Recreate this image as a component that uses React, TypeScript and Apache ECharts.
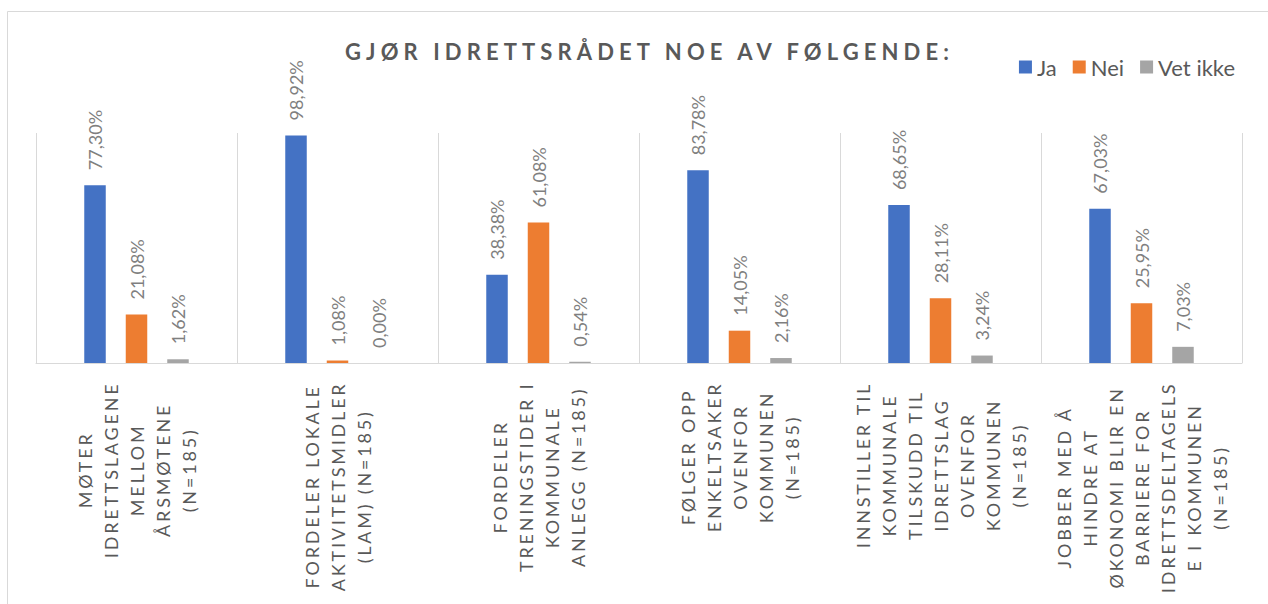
import React, { useEffect, useRef } from 'react';
import * as echarts from 'echarts';

const TITLE = 'GJØR IDRETTSRÅDET NOE AV FØLGENDE:';

const categories: string[] = [
  'MØTER\nIDRETTSLAGENE\nMELLOM\nÅRSMØTENE\n(N=185)',
  'FORDELER LOKALE\nAKTIVITETSMIDLER\n(LAM) (N=185)',
  'FORDELER\nTRENINGSTIDER I\nKOMMUNALE\nANLEGG (N=185)',
  'FØLGER OPP\nENKELTSAKER\nOVENFOR\nKOMMUNEN\n(N=185)',
  'INNSTILLER TIL\nKOMMUNALE\nTILSKUDD TIL\nIDRETTSLAG\nOVENFOR\nKOMMUNEN\n(N=185)',
  'JOBBER MED Å\nHINDRE AT\nØKONOMI BLIR EN\nBARRIERE FOR\nIDRETTSDELTAGELS\nE I KOMMUNEN\n(N=185)',
];

const seriesNames = ['Ja', 'Nei', 'Vet ikke'];
const jaValues = [77.3, 98.92, 38.38, 83.78, 68.65, 67.03];
const neiValues = [21.08, 1.08, 61.08, 14.05, 28.11, 25.95];
const vetIkkeValues = [1.62, 0.0, 0.54, 2.16, 3.24, 7.03];
const colors = ['#4472C4', '#ED7D31', '#A5A5A5'];

const FONT = 'Lato, "Open Sans", sans-serif';
const TITLE_LEFT = 340;
const TITLE_WIDTH = 604;
const LABEL_SPACING = 2.8;
const LABEL_FONT_SIZE = 18;
const LABEL_TOP = 383;

export default function App() {
  const ref = useRef<HTMLDivElement>(null);

  useEffect(() => {
    document.body.style.margin = '0';
    const el = ref.current!;
    const chart = echarts.init(el, null, { renderer: 'svg' });

    const fmtPct = (p: any) => p.value.toFixed(2).replace('.', ',') + '%';
    const mkSeries = (name: string, data: number[], color: string) => ({
      name,
      type: 'bar',
      data,
      barWidth: 21.5,
      barGap: '93%',
      itemStyle: { color },
      label: {
        show: true,
        position: 'top',
        rotate: 90,
        align: 'left',
        verticalAlign: 'middle',
        distance: 15,
        fontSize: 18,
        fontFamily: FONT,
        color: '#7f7f7f',
        formatter: fmtPct,
      },
    });

    chart.setOption({
      animation: false,
      backgroundColor: '#ffffff',
      title: {
        text: TITLE,
        left: TITLE_LEFT,
        top: 35,
        textStyle: {
          fontSize: 22,
          fontWeight: 'bold',
          color: '#595959',
          fontFamily: FONT,
        },
      },
      legend: {
        data: seriesNames,
        right: 28,
        top: 51,
        icon: 'rect',
        itemWidth: 13,
        itemHeight: 13,
        itemGap: 16,
        textStyle: { fontSize: 22, color: '#595959', fontFamily: FONT },
      },
      grid: {
        left: 36,
        right: 26,
        top: 133,
        bottom: 241,
        outerBoundsMode: 'none',
        containLabel: false,
      },
      xAxis: {
        type: 'category',
        data: categories,
        axisLine: { show: true, lineStyle: { color: '#d9d9d9', width: 1 } },
        axisTick: { show: false },
        splitLine: { show: true, interval: 0, lineStyle: { color: '#d9d9d9', width: 1 } },
        axisLabel: { show: false, interval: 0 },
      },
      yAxis: {
        type: 'value',
        min: 0,
        max: 100,
        show: false,
        splitLine: { show: false },
      },
      series: [
        mkSeries(seriesNames[0], jaValues, colors[0]),
        mkSeries(seriesNames[1], neiValues, colors[1]),
        mkSeries(seriesNames[2], vetIkkeValues, colors[2]),
      ],
    });

    // category labels: rotated, letter-spaced, lines centred, top-aligned under the axis
    const canvas = document.createElement('canvas');
    const ctx = canvas.getContext('2d')!;
    ctx.font = LABEL_FONT_SIZE + 'px Lato';
    const labelGraphics = categories.map((c, i) => {
      const lines = c.split('\n');
      const longest = Math.max(
        ...lines.map((l) => ctx.measureText(l).width + (l.length - 1) * LABEL_SPACING)
      );
      const px = chart.convertToPixel({ xAxisIndex: 0 }, i) as number;
      return {
        type: 'text',
        silent: true,
        x: px,
        y: LABEL_TOP + longest / 2,
        rotation: Math.PI / 2,
        style: {
          text: c,
          fill: '#595959',
          fontSize: LABEL_FONT_SIZE,
          fontFamily: FONT,
          lineHeight: 26,
          align: 'center',
          verticalAlign: 'middle',
          textAlign: 'center',
          textVerticalAlign: 'middle',
        },
      };
    });

    chart.setOption({
      graphic: [
        {
          type: 'rect',
          silent: true,
          z: -10,
          shape: { x: 7.5, y: 11.5, width: 1400, height: 800 },
          style: { fill: 'none', stroke: '#d9d9d9', lineWidth: 1 },
        },
        ...labelGraphics,
      ],
    });

    const lineSet = new Set<string>();
    categories.forEach((c) => c.split('\n').forEach((l) => lineSet.add(l)));

    const applySpacing = () => {
      const texts = el.querySelectorAll('svg text');
      texts.forEach((t: any) => {
        const s = (t.textContent || '').trim();
        if (s === TITLE) {
          t.removeAttribute('letter-spacing');
          const len = t.getComputedTextLength ? t.getComputedTextLength() : 0;
          const sp = len > 0 ? (TITLE_WIDTH - len) / (TITLE.length - 1) : 4;
          t.setAttribute('letter-spacing', String(sp.toFixed(2)));
        } else if (lineSet.has(s)) {
          t.setAttribute('letter-spacing', String(LABEL_SPACING));
        }
      });
    };
    applySpacing();
    chart.on('finished', applySpacing);

    return () => {
      chart.dispose();
    };
  }, []);

  return <div ref={ref} style={{ width: 1268, height: 604 }} />;
}
